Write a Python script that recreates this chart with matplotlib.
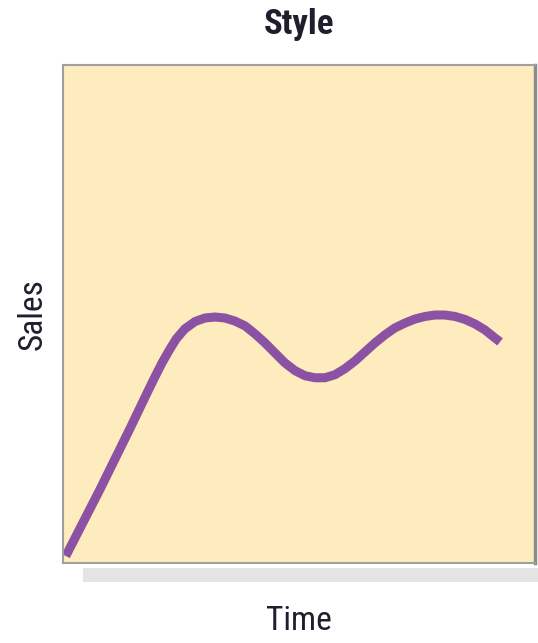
import matplotlib.pyplot as plt
from matplotlib.patches import Rectangle

# sales curve sampled along time (arbitrary units, 0-10 on both axes)
time = [0.06, 0.78, 1.42, 1.80, 1.95, 2.10, 2.25, 2.40, 2.58, 2.80, 3.01,
        3.22, 3.43, 3.64, 3.86, 4.07, 4.28, 4.49, 4.70, 4.92, 5.13, 5.34,
        5.55, 5.76, 5.97, 6.19, 6.40, 6.61, 6.82, 7.03, 7.25, 7.46, 7.67,
        7.88, 8.09, 8.31, 8.52, 8.73, 8.94, 9.15, 9.26]
sales = [0.14, 1.47, 2.70, 3.45, 3.74, 4.02, 4.27, 4.50, 4.70, 4.85, 4.92,
         4.94, 4.92, 4.86, 4.76, 4.60, 4.42, 4.22, 4.02, 3.86, 3.76, 3.72,
         3.72, 3.78, 3.90, 4.06, 4.24, 4.42, 4.58, 4.72, 4.82, 4.90, 4.95,
         4.98, 4.98, 4.95, 4.89, 4.80, 4.68, 4.52, 4.44]

fig = plt.figure(figsize=(5.38, 6.43), dpi=100)
ax = fig.add_axes([0.117, 0.1244, 0.8774, 0.7745])

# drop shadow under the panel
fig.patches.append(Rectangle((0.154, 0.095), 0.846, 0.022,
                             transform=fig.transFigure, facecolor='#e4e4e4',
                             edgecolor='none', zorder=0))

ax.set_facecolor('#feebbe')
ax.plot(time, sales, color='#8b52a4', lw=6.5, solid_capstyle='butt',
        solid_joinstyle='round')
ax.set_xlim(0, 10)
ax.set_ylim(0, 10)
ax.set_xticks([])
ax.set_yticks([])
for side in ['left', 'top', 'bottom']:
    ax.spines[side].set_color('#a0a0a0')
    ax.spines[side].set_linewidth(1.5)
ax.spines['right'].set_color('#8c8c8c')
ax.spines['right'].set_linewidth(2.5)

font = ['Roboto Condensed', 'DejaVu Sans']
ax.set_title('Style', fontsize=25, fontweight='bold', family=font,
             fontstretch='condensed', color='#1e1e2e', pad=22)
ax.set_xlabel('Time', fontsize=24, family=font, fontstretch='condensed',
              color='#1e1e2e', labelpad=30)
ax.set_ylabel('Sales', fontsize=24, family=font, fontstretch='condensed',
              color='#1e1e2e', labelpad=10)

fig.savefig('out.png', dpi=100, facecolor='white')
